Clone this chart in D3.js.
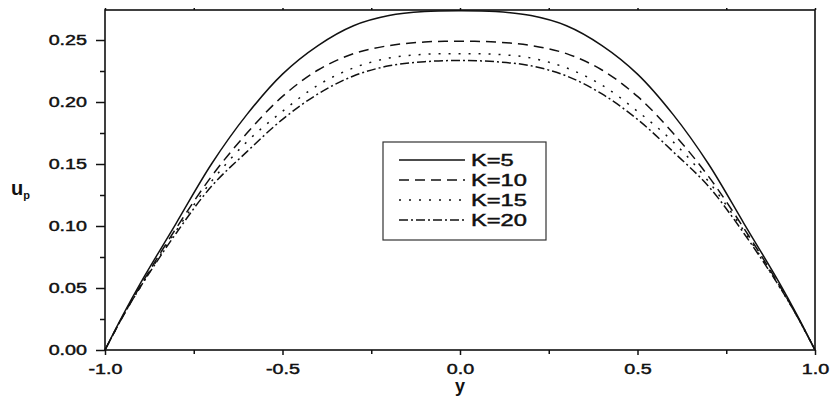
<!DOCTYPE html>
<html>
<head>
<meta charset="utf-8">
<script src="https://cdn.jsdelivr.net/npm/d3@7"></script>
<style>
  body { margin: 0; background: #fff; }
  svg { display: block; }
  text { font-family: "Liberation Sans", Arial, sans-serif; fill: #111; }
  .heavy { stroke: #111; stroke-width: 0.45px; }
</style>
</head>
<body>
<div id="chart"></div>
<script>
// Velocity profiles u_p vs y ///////////////////////////////////////////////////

var width = 830;
var height = 401;
var plotLeft = 105, plotRight = 815, plotTop = 10, plotBottom = 350;
var stretch = 1.36;   // text in the original is wide

///////////////////////////////////////////////////////////////////////////////

var ys = [-1.0, -0.95, -0.9, -0.8, -0.7, -0.6, -0.5, -0.4, -0.3, -0.2, -0.1, 0.0,
           0.1, 0.2, 0.3, 0.4, 0.5, 0.6, 0.7, 0.8, 0.9, 0.95, 1.0];
var k5  = [0, 0.028, 0.054, 0.102, 0.150, 0.190, 0.2225, 0.2455, 0.2615, 0.2697, 0.2729, 0.2735,
           0.2729, 0.2697, 0.2615, 0.2455, 0.2225, 0.190, 0.150, 0.102, 0.054, 0.028, 0];
var k10 = [0, 0.027, 0.052, 0.098, 0.140, 0.175, 0.2045, 0.2258, 0.239, 0.2455, 0.2484, 0.249,
           0.2484, 0.2455, 0.239, 0.2258, 0.2045, 0.175, 0.140, 0.098, 0.052, 0.027, 0];
var k15 = [0, 0.027, 0.051, 0.096, 0.136, 0.168, 0.1925, 0.2136, 0.2275, 0.2355, 0.2385, 0.239,
           0.2385, 0.2355, 0.2275, 0.2136, 0.1925, 0.168, 0.136, 0.096, 0.051, 0.027, 0];
var k20 = [0, 0.027, 0.051, 0.094, 0.132, 0.160, 0.186, 0.2065, 0.221, 0.2292, 0.2325, 0.2335,
           0.2325, 0.2292, 0.221, 0.2065, 0.186, 0.160, 0.132, 0.094, 0.051, 0.027, 0];

var seriesNames = ['K=5', 'K=10', 'K=15', 'K=20'];
var seriesValues = [k5, k10, k15, k20];
var dashes = [null, '10,6', '2,8', '9,3,2,3'];

var xMajor = [-1.0, -0.5, 0.0, 0.5, 1.0];
var xMinor = [-0.75, -0.25, 0.25, 0.75];
var yMajor = [0.00, 0.05, 0.10, 0.15, 0.20, 0.25];
var yMinor = [0.025, 0.075, 0.125, 0.175, 0.225];

///////////////////////////////////////////////////////////////////////////////

var svg = d3.select('#chart').append('svg')
  .attr('width', width)
  .attr('height', height);

var x = d3.scaleLinear().domain([-1, 1]).range([plotLeft, plotRight]);
var y = d3.scaleLinear().domain([0, 0.2742]).range([plotBottom, plotTop]);

// axes
var gx = svg.append('g').attr('transform', 'translate(0,' + plotBottom + ')')
  .call(d3.axisBottom(x).tickValues(xMajor).tickSize(5).tickPadding(9)
    .tickFormat(function(d){ return d.toFixed(1); }));
svg.append('g').attr('transform', 'translate(0,' + plotBottom + ')')
  .call(d3.axisBottom(x).tickValues(xMinor).tickSize(4).tickFormat(''));
svg.append('g').attr('transform', 'translate(0,' + plotTop + ')')
  .call(d3.axisTop(x).tickValues(xMajor.concat(xMinor)).tickSize(2).tickFormat(''));

var gy = svg.append('g').attr('transform', 'translate(' + plotLeft + ',0)')
  .call(d3.axisLeft(y).tickValues(yMajor).tickSize(9)
    .tickFormat(function(d){ return d.toFixed(2); }));
svg.append('g').attr('transform', 'translate(' + plotLeft + ',0)')
  .call(d3.axisLeft(y).tickValues(yMinor).tickSize(5).tickFormat(''));

svg.selectAll('.domain').remove();
svg.selectAll('.tick line').attr('stroke', '#111').attr('stroke-width', 1.5);

gx.selectAll('text')
  .attr('font-size', 14.5)
  .attr('class', 'heavy')
  .attr('transform', 'scale(' + stretch + ',1)');
gy.selectAll('text')
  .attr('font-size', 14.5)
  .attr('class', 'heavy')
  .attr('x', -18 / stretch)
  .attr('transform', 'scale(' + stretch + ',1)');
svg.selectAll('g[font-family]').attr('font-family', null);

// frame
svg.append('rect')
  .attr('x', plotLeft).attr('y', plotTop)
  .attr('width', plotRight - plotLeft).attr('height', plotBottom - plotTop)
  .style('fill', 'none')
  .style('stroke', '#111')
  .style('stroke-width', 1.6);

// curves
var line = d3.line()
  .x(function(d){ return x(d[0]); })
  .y(function(d){ return y(d[1]); })
  .curve(d3.curveCatmullRom.alpha(0.5));

svg.append('g').selectAll('path')
  .data(seriesValues)
  .enter().append('path')
  .attr('d', function(vals){ return line(ys.map(function(v, i){ return [v, vals[i]]; })); })
  .style('fill', 'none')
  .style('stroke', '#111')
  .style('stroke-width', 1.5)
  .style('stroke-dasharray', function(d, i){ return dashes[i]; });

// axis titles
var yt = svg.append('text')
  .attr('x', 11).attr('y', 195)
  .attr('font-size', 20)
  .attr('font-weight', 'bold')
  .text('u');
yt.append('tspan')
  .attr('font-size', 11)
  .attr('dy', 4)
  .text('p');

svg.append('text')
  .attr('x', x(0)).attr('y', 392)
  .attr('text-anchor', 'middle')
  .attr('font-size', 18)
  .attr('font-weight', 'bold')
  .text('y');

// legend
var legend = svg.append('g');
legend.append('rect')
  .attr('x', 383).attr('y', 142)
  .attr('width', 163).attr('height', 98)
  .style('fill', '#fff')
  .style('stroke', '#333')
  .style('stroke-width', 1.2);

var rows = legend.selectAll('g.row')
  .data(seriesNames)
  .enter().append('g')
  .attr('class', 'row')
  .attr('transform', function(d, i){ return 'translate(0,' + (160 + i * 20) + ')'; });

rows.append('line')
  .attr('x1', 399).attr('x2', 465)
  .style('stroke', '#111')
  .style('stroke-width', 1.5)
  .style('stroke-dasharray', function(d, i){ return dashes[i]; });

rows.append('text')
  .attr('class', 'heavy')
  .attr('x', 471 / 1.48)
  .attr('dy', '0.36em')
  .attr('font-size', 16)
  .attr('transform', 'scale(1.48,1)')
  .text(function(d){ return d; });
</script>
</body>
</html>
